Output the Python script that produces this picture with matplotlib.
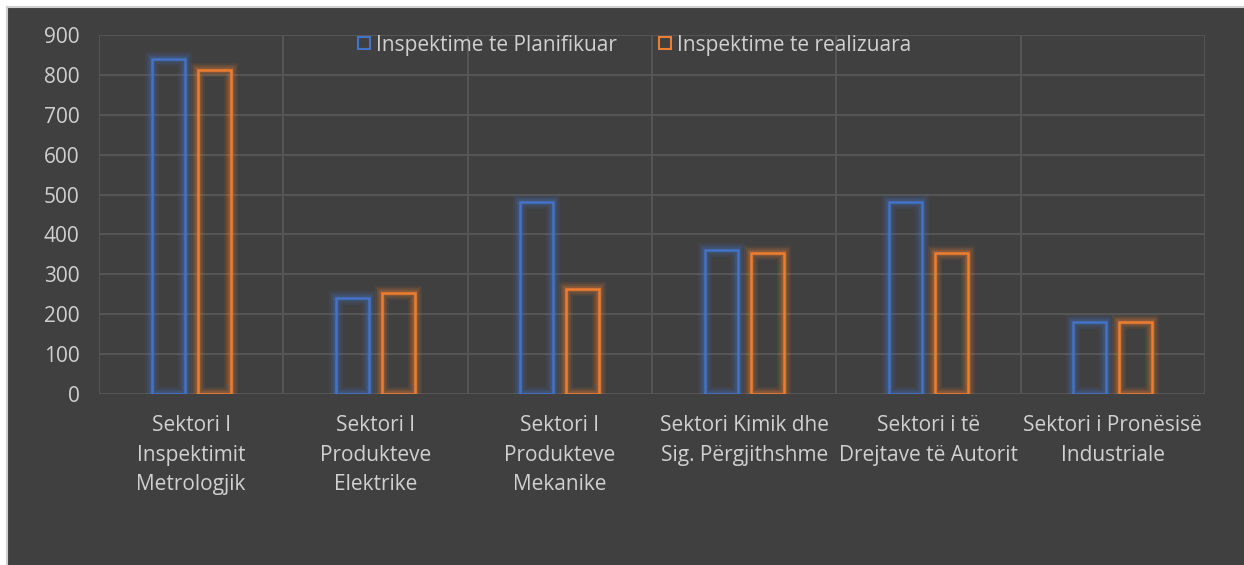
import numpy as np
import matplotlib.pyplot as plt
import matplotlib.patheffects as pe
from matplotlib.patches import Rectangle
from matplotlib.lines import Line2D

categories = ["Sektori I\nInspektimit\nMetrologjik",
              "Sektori I\nProdukteve\nElektrike",
              "Sektori I\nProdukteve\nMekanike",
              "Sektori Kimik dhe\nSig. Përgjithshme",
              "Sektori i të\nDrejtave të Autorit",
              "Sektori i Pronësisë\nIndustriale"]
planned = [840, 240, 481, 361, 482, 181]
realized = [812, 252, 263, 353, 354, 180]
series_names = ["Inspektime te Planifikuar", "Inspektime te realizuara"]

blue = "#4472c4"
orange = "#ed7d31"
bg = "#404040"
grid_c = "#555555"
txt = "#d0d0d0"

plt.rcParams['font.family'] = ['Open Sans', 'DejaVu Sans']

fig = plt.figure(figsize=(12.44, 5.65), dpi=100)
fig.patch.set_facecolor("white")
# dark chart area with thin gray frame (frame only visible on left/top)
fig.patches.append(Rectangle((7 / 1244, -0.05), 1.1, 1.05 - 7 / 565, transform=fig.transFigure,
                             facecolor=bg, edgecolor="#d0d0d0", linewidth=1.5, zorder=-5))

ax = fig.add_axes([99 / 1244, 1 - 394 / 565, (1205 - 99) / 1244, (394 - 35) / 565])
ax.set_facecolor(bg)
x = np.arange(len(categories))
w = 0.18
off = 0.125

def glow(c):
    return [pe.Stroke(linewidth=10, foreground=c, alpha=0.10),
            pe.Stroke(linewidth=7, foreground=c, alpha=0.15),
            pe.Stroke(linewidth=4, foreground=c, alpha=0.25),
            pe.Normal()]

b1 = ax.bar(x - off, planned, w, facecolor="none", edgecolor=blue, linewidth=1.8, zorder=3)
b2 = ax.bar(x + off, realized, w, facecolor="none", edgecolor=orange, linewidth=1.8, zorder=3)
for b in b1:
    b.set_path_effects(glow(blue))
for b in b2:
    b.set_path_effects(glow(orange))

ax.set_xlim(-0.5, len(categories) - 0.5)
ax.set_ylim(0, 900)
ax.set_yticks(np.arange(0, 901, 100))
ax.set_xticks(x)
ax.set_xticklabels(categories, color=txt, fontsize=15, linespacing=1.55)
ax.set_xticks(np.arange(-0.5, len(categories), 1), minor=True)
ax.tick_params(axis='y', colors=txt, labelsize=15, length=0, pad=14)
ax.tick_params(axis='x', which='both', length=0, pad=15)
for lbl in ax.get_yticklabels():
    lbl.set_color(txt)
ax.grid(axis='y', color=grid_c, linewidth=1.5, zorder=0)
ax.grid(axis='x', which='minor', color=grid_c, linewidth=1.5, zorder=0)
ax.grid(axis='x', which='major', visible=False)
for s in ax.spines.values():
    s.set_visible(False)

handles = [Line2D([], [], marker='s', linestyle='none', markersize=9, markerfacecolor='none',
                  markeredgecolor=blue, markeredgewidth=1.5),
           Line2D([], [], marker='s', linestyle='none', markersize=9, markerfacecolor='none',
                  markeredgecolor=orange, markeredgewidth=1.5)]
leg = fig.legend(handles, series_names, loc='center', bbox_to_anchor=(634 / 1244, 1 - 45 / 565),
                 ncol=2, frameon=False, fontsize=15, handletextpad=0.2, columnspacing=2.0,
                 handlelength=0.7, labelcolor=txt)

fig.savefig("out.png", dpi=100, facecolor=fig.get_facecolor())
